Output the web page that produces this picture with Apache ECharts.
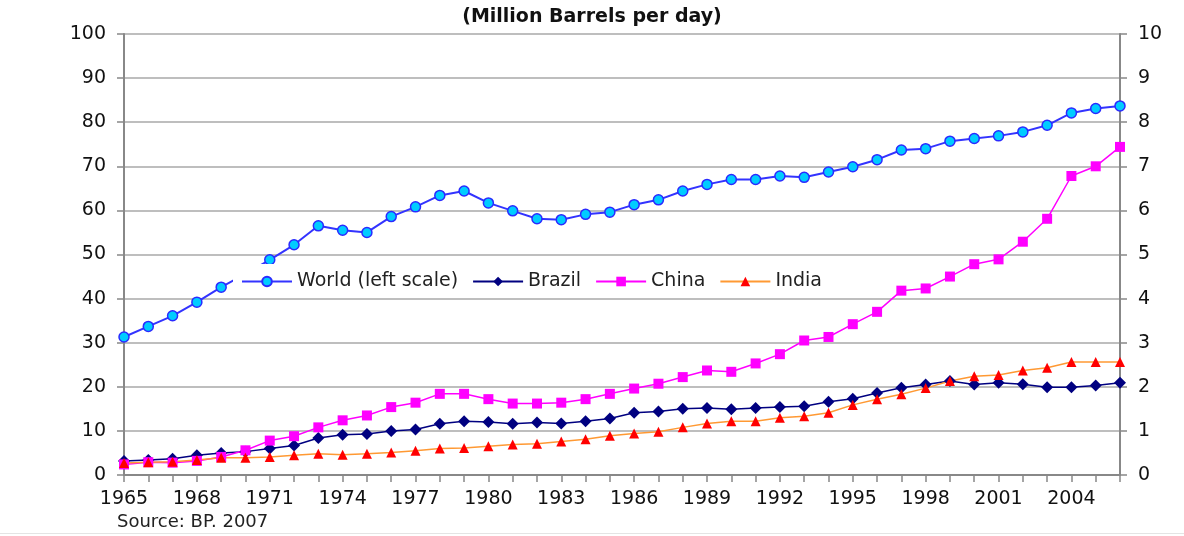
<!DOCTYPE html>
<html>
<head>
<meta charset="utf-8">
<script src="https://cdn.jsdelivr.net/npm/echarts@6/dist/echarts.min.js"></script>
<style>
html, body { margin: 0; padding: 0; background: #fff; }
#chart { width: 1184px; height: 536px; }
</style>
</head>
<body>
<div id="chart"></div>
<script>
// years 1965 - 2006
var years = []
for (var y = 1965; y <= 2006; y++) years.push(String(y))

// world, left scale (million barrels per day)
var world = [31.3, 33.7, 36.1, 39.2, 42.6, 45.6, 48.8, 52.2, 56.5, 55.5,
  55.0, 58.6, 60.8, 63.4, 64.4, 61.7, 59.9, 58.1, 57.9, 59.1,
  59.6, 61.3, 62.4, 64.4, 65.9, 67.0, 67.0, 67.8, 67.5, 68.7,
  69.9, 71.5, 73.7, 74.0, 75.7, 76.3, 76.9, 77.8, 79.3, 82.1,
  83.1, 83.7]

// right scale
var brazil = [0.32, 0.34, 0.37, 0.45, 0.50, 0.53, 0.60, 0.67, 0.84, 0.91,
  0.93, 1.00, 1.03, 1.16, 1.22, 1.20, 1.16, 1.19, 1.17, 1.22,
  1.28, 1.41, 1.44, 1.50, 1.52, 1.49, 1.52, 1.54, 1.56, 1.66,
  1.73, 1.86, 1.98, 2.05, 2.13, 2.05, 2.09, 2.06, 1.99, 1.99,
  2.03, 2.09]

var china = [0.24, 0.29, 0.28, 0.32, 0.41, 0.56, 0.78, 0.88, 1.08, 1.24,
  1.35, 1.54, 1.64, 1.84, 1.84, 1.72, 1.62, 1.62, 1.64, 1.72,
  1.84, 1.96, 2.07, 2.22, 2.37, 2.34, 2.53, 2.74, 3.05, 3.13,
  3.42, 3.70, 4.18, 4.23, 4.50, 4.78, 4.89, 5.29, 5.81, 6.78,
  7.00, 7.44]

var india = [0.27, 0.29, 0.30, 0.34, 0.39, 0.39, 0.41, 0.45, 0.48, 0.46,
  0.48, 0.51, 0.55, 0.60, 0.61, 0.65, 0.69, 0.71, 0.76, 0.81,
  0.89, 0.94, 0.98, 1.08, 1.17, 1.22, 1.22, 1.30, 1.33, 1.41,
  1.59, 1.72, 1.83, 1.97, 2.13, 2.24, 2.27, 2.37, 2.43, 2.56,
  2.56, 2.56]

var font = 'DejaVu Sans'
var chart = echarts.init(document.getElementById('chart'))

var option = {
  animation: false,
  backgroundColor: '#fff',
  textStyle: { fontFamily: font },
  title: {
    text: '(Million Barrels per day)',
    left: 'center',
    top: 3,
    textStyle: { fontFamily: font, fontSize: 19, fontWeight: 'bold', color: '#111' }
  },
  grid: { left: 124, right: 64, top: 34, bottom: 61 },
  legend: {
    left: 233,
    top: 264,
    backgroundColor: '#fff',
    padding: [8, 8, 5, 8],
    itemWidth: 50,
    itemHeight: 12,
    itemGap: 14,
    textStyle: { fontFamily: font, fontSize: 19, color: '#222' },
    data: ['World (left scale)', 'Brazil', 'China', 'India']
  },
  xAxis: {
    type: 'category',
    data: years,
    boundaryGap: false,
    axisLine: { lineStyle: { color: '#888', width: 2 } },
    axisTick: { interval: 0, length: 7, lineStyle: { color: '#888', width: 1.5 } },
    axisLabel: { interval: 2, margin: 15, fontSize: 19, color: '#111', fontFamily: font }
  },
  yAxis: [
    {
      type: 'value', min: 0, max: 100, interval: 10,
      axisLine: { show: true, lineStyle: { color: '#888', width: 2 } },
      axisTick: { show: true, length: 7, lineStyle: { color: '#888', width: 1.5 } },
      axisLabel: { fontSize: 19, color: '#111', margin: 18, fontFamily: font },
      splitLine: { lineStyle: { color: '#a8a8a8', width: 1.5 } }
    },
    {
      type: 'value', min: 0, max: 10, interval: 1,
      axisLine: { show: true, lineStyle: { color: '#888', width: 2 } },
      axisTick: { show: true, length: 7, lineStyle: { color: '#888', width: 1.5 } },
      axisLabel: { fontSize: 19, color: '#111', margin: 18, fontFamily: font },
      splitLine: { show: false }
    }
  ],
  series: [
    {
      name: 'World (left scale)', type: 'line', yAxisIndex: 0, data: world,
      symbol: 'circle', symbolSize: 10,
      lineStyle: { color: '#3333ff', width: 2 },
      itemStyle: { color: '#00ccff', borderColor: '#2a2aff', borderWidth: 1.5 },
      z: 2
    },
    {
      name: 'Brazil', type: 'line', yAxisIndex: 1, data: brazil,
      symbol: 'diamond', symbolSize: 12,
      lineStyle: { color: '#000080', width: 1.5 },
      itemStyle: { color: '#000080' }
    },
    {
      name: 'China', type: 'line', yAxisIndex: 1, data: china,
      symbol: 'rect', symbolSize: 10,
      lineStyle: { color: '#ff00ff', width: 1.5 },
      itemStyle: { color: '#ff00ff' }
    },
    {
      name: 'India', type: 'line', yAxisIndex: 1, data: india,
      symbol: 'triangle', symbolSize: 10,
      lineStyle: { color: '#ff9933', width: 1.5 },
      itemStyle: { color: '#ff0000' }
    }
  ],
  graphic: [
    {
      type: 'text', left: 117, top: 513,
      style: { text: 'Source: BP. 2007', font: '18px "DejaVu Sans"', fill: '#222' }
    },
    {
      type: 'rect', left: 0, top: 533,
      shape: { width: 1184, height: 1 },
      style: { fill: '#e4e4e4' }
    }
  ]
}

chart.setOption(option)
</script>
</body>
</html>
